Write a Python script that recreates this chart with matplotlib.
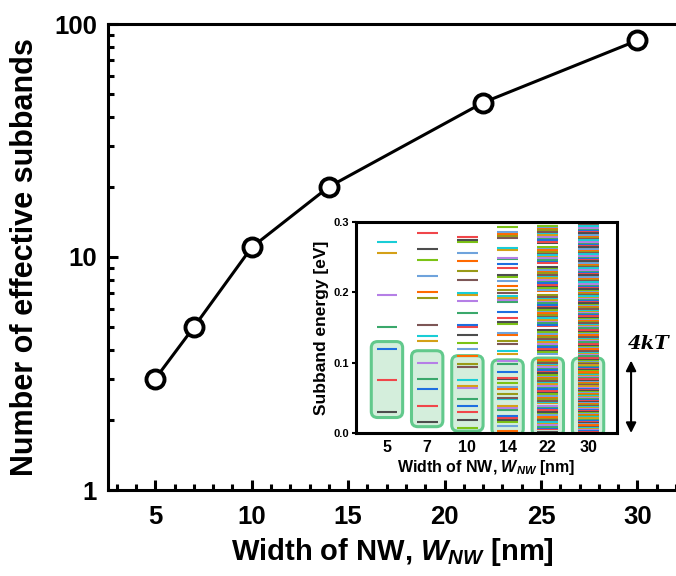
import matplotlib
matplotlib.use('Agg')
import matplotlib.pyplot as plt
from matplotlib.patches import FancyBboxPatch
from matplotlib.ticker import FixedLocator, MultipleLocator, NullFormatter, FixedFormatter

# ---------------- data ----------------
widths = [5, 7, 10, 14, 22, 30]
n_subbands = [3, 5, 11, 20, 46, 85]

inset_labels = ['5', '7', '10', '14', '22', '30']

levels_5 = [0.030, 0.075, 0.120, 0.151, 0.196, 0.256, 0.271, 0.300]
levels_7 = [0.015, 0.039, 0.062, 0.077, 0.100, 0.131, 0.138, 0.154, 0.192, 0.200,
            0.223, 0.246, 0.261, 0.284]
levels_10 = [0.007, 0.019, 0.030, 0.038, 0.049, 0.064, 0.067, 0.075, 0.094, 0.098,
             0.109, 0.120, 0.128, 0.139, 0.151, 0.154, 0.170, 0.188, 0.196, 0.199,
             0.218, 0.230, 0.245, 0.256, 0.271, 0.275, 0.278, 0.300]
levels_14 = [0.0035, 0.0097, 0.0158, 0.0182, 0.021, 0.0248, 0.0329, 0.0357, 0.039, 0.0485,
             0.0499, 0.056, 0.0627, 0.065, 0.0712, 0.0764, 0.0787, 0.0868, 0.0986, 0.1019,
             0.1118, 0.117, 0.1265, 0.1303, 0.1397, 0.1416, 0.1549, 0.1572, 0.1629, 0.1719,
             0.186, 0.1884, 0.1917, 0.1941, 0.1993, 0.2031, 0.2092, 0.2168, 0.2225, 0.2248,
             0.2352, 0.240, 0.2471, 0.2494, 0.2608, 0.2627, 0.2778, 0.2801, 0.283, 0.2863,
             0.2934, 0.2990]
levels_22 = [0.002, 0.005, 0.007, 0.009, 0.012, 0.014, 0.016, 0.019, 0.021, 0.023,
             0.025, 0.028, 0.030, 0.033, 0.035, 0.037, 0.039, 0.042, 0.044, 0.046,
             0.049, 0.051, 0.053, 0.056, 0.058, 0.060, 0.063, 0.065, 0.067, 0.070,
             0.072, 0.074, 0.077, 0.079, 0.081, 0.083, 0.086, 0.088, 0.090, 0.092,
             0.094, 0.096, 0.098, 0.100, 0.102, 0.104,
             0.113, 0.115, 0.118, 0.120, 0.122, 0.125, 0.127, 0.129, 0.132, 0.134,
             0.136, 0.139, 0.141, 0.143, 0.146, 0.152, 0.154, 0.157, 0.159, 0.161,
             0.164, 0.166, 0.168, 0.171, 0.173, 0.175, 0.178, 0.180, 0.182, 0.185,
             0.187, 0.189, 0.192, 0.194, 0.196, 0.202, 0.204, 0.206, 0.209, 0.211,
             0.213, 0.216, 0.218, 0.220, 0.223, 0.225, 0.227, 0.230, 0.232, 0.234,
             0.236, 0.242, 0.244, 0.246, 0.249, 0.251, 0.253, 0.256, 0.258, 0.260,
             0.263, 0.265, 0.270, 0.272, 0.274, 0.277, 0.279, 0.281, 0.284, 0.286,
             0.288, 0.291, 0.293, 0.295, 0.298]
levels_30 = [0.001, 0.002, 0.004, 0.005, 0.006, 0.007, 0.009, 0.010, 0.011, 0.012,
             0.014, 0.015, 0.016, 0.017, 0.019, 0.020, 0.021, 0.022, 0.024, 0.025,
             0.026, 0.027, 0.029, 0.030, 0.031, 0.032, 0.034, 0.035, 0.036, 0.037,
             0.039, 0.040, 0.041, 0.042, 0.044, 0.045, 0.046, 0.047, 0.049, 0.050,
             0.051, 0.052, 0.054, 0.055, 0.056, 0.057, 0.059, 0.060, 0.061, 0.062,
             0.064, 0.065, 0.066, 0.067, 0.069, 0.070, 0.071, 0.072, 0.074, 0.075,
             0.076, 0.077, 0.079, 0.080, 0.081, 0.082, 0.084, 0.085, 0.086, 0.087,
             0.089, 0.090, 0.091, 0.092, 0.094, 0.095, 0.096, 0.097, 0.099, 0.100,
             0.101, 0.102, 0.103, 0.104, 0.105,
             0.107, 0.109, 0.110, 0.112, 0.114, 0.115, 0.117, 0.119, 0.120, 0.122,
             0.124, 0.125, 0.127, 0.129, 0.130, 0.132, 0.134, 0.135, 0.137, 0.139,
             0.140, 0.142, 0.144, 0.145, 0.147, 0.149, 0.150, 0.152, 0.154, 0.155,
             0.157, 0.159, 0.160, 0.162, 0.164, 0.165, 0.167, 0.169, 0.170, 0.172,
             0.174, 0.175, 0.177, 0.179, 0.180, 0.182, 0.184, 0.185, 0.187, 0.189,
             0.190, 0.192, 0.194, 0.195, 0.197, 0.199, 0.200, 0.202, 0.204, 0.205,
             0.207, 0.209, 0.210, 0.212, 0.214, 0.215, 0.217, 0.219, 0.220, 0.222,
             0.224, 0.225, 0.227, 0.229, 0.230, 0.232, 0.234, 0.235, 0.237, 0.239,
             0.240, 0.242, 0.244, 0.245, 0.247, 0.249, 0.250, 0.252, 0.254, 0.255,
             0.257, 0.259, 0.260, 0.262, 0.264, 0.265, 0.267, 0.269, 0.270, 0.272,
             0.274, 0.275, 0.277, 0.279, 0.280, 0.282, 0.284, 0.285, 0.287, 0.289,
             0.290, 0.292, 0.294, 0.295, 0.297, 0.299]
all_levels = [levels_5, levels_7, levels_10, levels_14, levels_22, levels_30]

# 4kT window (effective subbands) per width: bottom / top energy of the box
window_bottom = [0.022, 0.009, 0.0026, -0.003, -0.004, -0.004]
window_top = [0.130, 0.117, 0.110, 0.104, 0.1066, 0.1066]

# ---------------- style ----------------
palette = ['#4d4d4d', '#f0464a', '#1e6fe0', '#3aa86b', '#b57fe6', '#d4a017',
           '#19cdd6', '#7d5656', '#999a17', '#ff6a00', '#6fa3dc', '#7cc316']
color_offset = [0, 0, 11, 9, 0, 0]

plt.rcParams['font.family'] = ['Liberation Sans', 'DejaVu Sans']
plt.rcParams['font.weight'] = 'bold'
plt.rcParams['mathtext.fontset'] = 'custom'
plt.rcParams['mathtext.it'] = 'Liberation Sans:italic:bold'
plt.rcParams['mathtext.rm'] = 'Liberation Sans:bold'
plt.rcParams['mathtext.bf'] = 'Liberation Sans:bold'

fig = plt.figure(figsize=(6.76, 5.76), dpi=100)
ax = fig.add_axes([108 / 676, 86 / 576, 1 - 108 / 676, 466 / 576])

ax.plot(widths, n_subbands, '-o', color='k', lw=2.2, ms=13, mfc='white',
        mec='k', mew=2.8, zorder=3, clip_on=False)
ax.set_yscale('log')
ax.set_ylim(1, 100)
ax.set_xlim(2.55, 32.0)

for s in ['left', 'bottom', 'top']:
    ax.spines[s].set_linewidth(2.2)
ax.spines['right'].set_visible(False)

ax.xaxis.set_major_locator(FixedLocator([5, 10, 15, 20, 25, 30]))
ax.xaxis.set_minor_locator(MultipleLocator(1))
ax.yaxis.set_major_locator(FixedLocator([1, 10, 100]))
ax.yaxis.set_major_formatter(FixedFormatter(['1', '10', '100']))
ax.yaxis.set_minor_locator(FixedLocator([2, 3, 4, 5, 6, 7, 8, 9,
                                         20, 30, 40, 50, 60, 70, 80, 90]))
ax.yaxis.set_minor_formatter(NullFormatter())
ax.tick_params(which='both', direction='in', width=2.2, top=False, right=False,
               labelsize=18.5)
ax.tick_params(which='major', length=7, pad=8)
ax.tick_params(axis='x', which='major', pad=11)
ax.tick_params(which='minor', length=4)
for lab in ax.get_xticklabels() + ax.get_yticklabels():
    lab.set_fontweight('bold')

ax.set_xlabel('Width of NW, $W_{NW}$ [nm]', fontsize=21, fontweight='bold', labelpad=5)
ax.set_ylabel('Number of effective subbands', fontsize=22, fontweight='bold', labelpad=10)

# ---------------- inset ----------------
ax2 = fig.add_axes([356 / 676, (576 - 433) / 576, 261 / 676, 211 / 576])
ax2.set_zorder(5)
ax2.set_facecolor('white')
ax2.set_xlim(-0.77, 5.72)
ax2.set_ylim(0, 0.3)

half_box = 0.39
for i, lv in enumerate(all_levels):
    box = FancyBboxPatch((i - half_box, window_bottom[i]), 2 * half_box,
                         window_top[i] - window_bottom[i],
                         boxstyle='round,pad=0,rounding_size=0.16',
                         mutation_aspect=0.055,
                         facecolor='#d4eedc', edgecolor='#62c98c', lw=2.2, zorder=2)
    ax2.add_patch(box)
    cols = [palette[(k + color_offset[i]) % len(palette)] for k in range(len(lv))]
    ax2.hlines(lv, i - 0.26, i + 0.26, colors=cols, lw=1.5, zorder=3)

for s in ax2.spines.values():
    s.set_linewidth(2.2)
    s.set_zorder(6)
ax2.set_xticks(range(len(inset_labels)))
ax2.set_xticklabels(inset_labels, fontsize=11.5, fontweight='bold')
ax2.tick_params(axis='x', length=0, pad=5)
ax2.set_yticks([0.0, 0.1, 0.2, 0.3])
ax2.set_yticklabels(['0.0', '0.1', '0.2', '0.3'], fontsize=8, fontweight='bold')
ax2.tick_params(axis='y', direction='out', length=3, width=1.5, pad=2)
ax2.set_xlabel('Width of NW, $W_{NW}$ [nm]', fontsize=11.5, fontweight='bold', labelpad=2)
ax2.set_ylabel('Subband energy [eV]', fontsize=12.5, fontweight='bold', labelpad=3)

ax2.annotate('', xy=(6.07, 0.0), xytext=(6.07, 0.103), xycoords='data',
             arrowprops=dict(arrowstyle='<|-|>', color='k', lw=1.5,
                             mutation_scale=15, shrinkA=0, shrinkB=0),
             annotation_clip=False)
ax2.text(6.52, 0.127, '4kT', fontfamily='DejaVu Serif', fontweight='bold',
         fontstyle='italic', fontsize=14, ha='center', va='center', clip_on=False)

fig.savefig('out.png', dpi=100)
